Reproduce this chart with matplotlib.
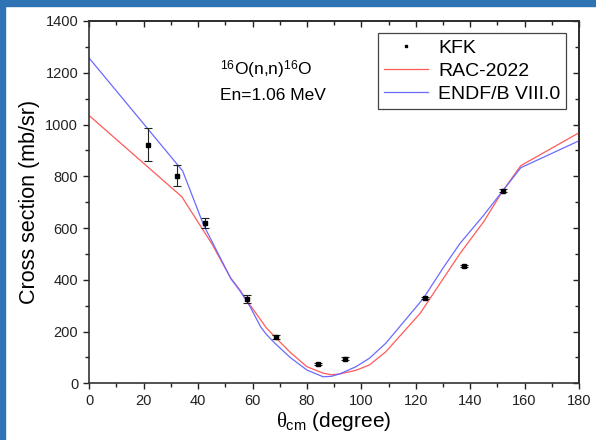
import numpy as np
import matplotlib
matplotlib.use("Agg")
import matplotlib.pyplot as plt
from matplotlib.ticker import MultipleLocator
from matplotlib.patches import Rectangle
from matplotlib.lines import Line2D

plt.rcParams['font.family'] = ['Liberation Sans', 'DejaVu Sans']
plt.rcParams['mathtext.fontset'] = 'custom'
plt.rcParams['mathtext.rm'] = 'Liberation Sans'
plt.rcParams['mathtext.it'] = 'Liberation Serif'
plt.rcParams['mathtext.bf'] = 'Liberation Sans:bold'

# ---- data ----
kfk_angle = [21.5, 32.1, 42.5, 58.0, 68.5, 84.0, 93.9, 123.4, 137.8, 152.0]
kfk_xs = [922, 802, 620, 326, 179, 75, 95, 328, 454, 744]
kfk_err = [63, 40, 20, 14, 7, 5, 5, 4, 4, 6]

rac_angle = [0, 34, 45, 52, 55.4, 58, 63, 65, 68, 73.8, 80, 86, 89, 92, 98, 103, 109,
             121.6, 130, 136.3, 145, 152, 158.6, 180]
rac_xs = [1034, 721, 540, 406, 360, 318, 245, 215, 182, 120, 64, 39, 33, 36, 50, 71, 122,
          270, 403, 502, 625, 744, 841, 968]

endf_angle = [0, 34.3, 42, 52, 55.4, 59, 63, 65, 68, 73.8, 80, 86, 89, 92, 98, 103, 109,
              122.8, 130, 136.3, 145, 152, 158.6, 180]
endf_xs = [1256, 821, 612, 405, 357, 298, 218, 190, 157, 100, 51, 25, 27, 36, 64, 97, 155,
           328, 445, 541, 650, 744, 833, 937]

fig = plt.figure(figsize=(5.96, 4.40), dpi=100)
# blue frame strips (top and left)
fig.patches.append(Rectangle((0, 1 - 6 / 440), 1, 6 / 440, transform=fig.transFigure,
                             color='#2e74b5', zorder=0))
fig.patches.append(Rectangle((0, 0), 5 / 596, 1, transform=fig.transFigure,
                             color='#2e74b5', zorder=0))

ax = fig.add_axes([0.1498, 0.1289, 0.8217, 0.8234])

ax.plot(rac_angle, rac_xs, color='#ff5a5a', lw=0.9)
ax.plot(endf_angle, endf_xs, color='#6a6aff', lw=0.9)
ax.errorbar(kfk_angle, kfk_xs, yerr=kfk_err, fmt='s', ms=2.5, color='black',
            ecolor='#222222', elinewidth=0.8, capsize=3, capthick=0.8, zorder=5)

ax.set_xlim(0, 180)
ax.set_ylim(0, 1400)
ax.xaxis.set_major_locator(MultipleLocator(20))
ax.xaxis.set_minor_locator(MultipleLocator(10))
ax.yaxis.set_major_locator(MultipleLocator(200))
ax.yaxis.set_minor_locator(MultipleLocator(100))
ax.tick_params(which='major', direction='out', length=4.5, width=1.0, labelsize=10.5,
               colors='#222222')
ax.tick_params(which='minor', direction='out', length=3, width=1.0, colors='#222222')
for s in ax.spines.values():
    s.set_linewidth(1.2)
    s.set_color('#333333')

# mirrored inward ticks on top and right
top = ax.secondary_xaxis('top')
top.xaxis.set_major_locator(MultipleLocator(20))
top.xaxis.set_minor_locator(MultipleLocator(10))
top.tick_params(which='major', direction='in', length=4.5, width=1.0, labeltop=False,
                colors='#222222')
top.tick_params(which='minor', direction='in', length=3, width=1.0, colors='#222222')
top.spines['top'].set_linewidth(1.2)
right = ax.secondary_yaxis('right')
right.yaxis.set_major_locator(MultipleLocator(200))
right.yaxis.set_minor_locator(MultipleLocator(100))
right.tick_params(which='major', direction='in', length=4.5, width=1.0, labelright=False,
                  colors='#222222')
right.tick_params(which='minor', direction='in', length=3, width=1.0, colors='#222222')
right.spines['right'].set_linewidth(1.2)

ax.set_xlabel(r'$\theta_{\mathrm{cm}}$ (degree)', fontsize=15, labelpad=1)
ax.set_ylabel('Cross section (mb/sr)', fontsize=15.5, labelpad=4)

ax.text(48, 1190, r'$^{16}$O(n,n)$^{16}$O', fontsize=12.5, va='baseline')
ax.text(48, 1095, 'En=1.06 MeV', fontsize=12.5, va='baseline')

handles = [Line2D([], [], ls='none', marker='s', ms=2, color='black'),
           Line2D([], [], color='#ff5a5a', lw=0.9),
           Line2D([], [], color='#6a6aff', lw=0.9)]
labels = ['KFK', 'RAC-2022', 'ENDF/B VIII.0']
leg = ax.legend(handles, labels, loc='upper right',
                bbox_to_anchor=(0.974, 0.966), fontsize=14, fancybox=False,
                edgecolor='#444444', framealpha=1, handlelength=2.3, handletextpad=0.5,
                borderpad=0.3, labelspacing=0.28, borderaxespad=0)
leg.get_frame().set_linewidth(0.9)

fig.savefig('out.png', dpi=100)
